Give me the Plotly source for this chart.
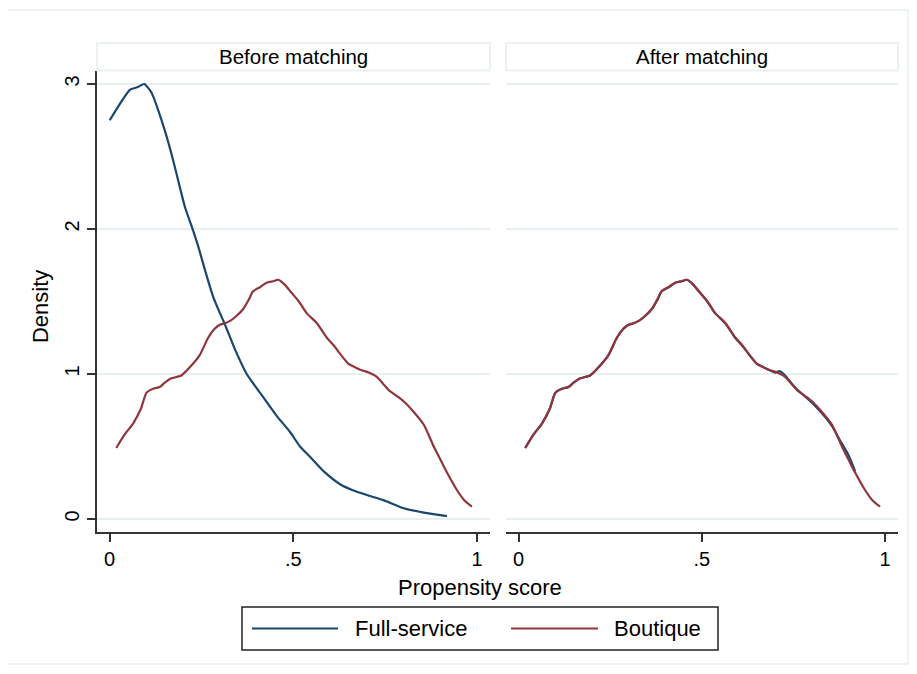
import plotly.graph_objects as go

# ---------------- data ----------------
boutique_x = [0.018, 0.04, 0.064, 0.085, 0.10, 0.12, 0.136, 0.15, 0.168, 0.195,
              0.223, 0.245, 0.268, 0.285, 0.30, 0.314, 0.33, 0.345, 0.364, 0.38,
              0.39, 0.41, 0.427, 0.445, 0.459, 0.475, 0.495, 0.515, 0.536, 0.564,
              0.591, 0.609, 0.63, 0.65, 0.665, 0.682, 0.705, 0.727, 0.745, 0.759,
              0.786, 0.805, 0.827, 0.855, 0.882, 0.90, 0.918, 0.945, 0.965, 0.986]
boutique_y = [0.49, 0.58, 0.66, 0.76, 0.87, 0.90, 0.91, 0.94, 0.97, 0.99,
              1.06, 1.13, 1.25, 1.31, 1.34, 1.35, 1.37, 1.40, 1.45, 1.52,
              1.57, 1.60, 1.63, 1.64, 1.65, 1.62, 1.56, 1.50, 1.42, 1.35,
              1.25, 1.20, 1.13, 1.07, 1.05, 1.03, 1.01, 0.98, 0.93, 0.89,
              0.84, 0.80, 0.74, 0.65, 0.50, 0.41, 0.32, 0.20, 0.13, 0.085]

full_before_x = [0.0, 0.027, 0.055, 0.077, 0.094, 0.114, 0.132, 0.15, 0.168, 0.186,
                 0.205, 0.223, 0.241, 0.259, 0.282, 0.30, 0.314, 0.341, 0.373, 0.395,
                 0.418, 0.455, 0.491, 0.518, 0.545, 0.582, 0.627, 0.66, 0.70, 0.745,
                 0.80, 0.855, 0.918]
full_before_y = [2.75, 2.86, 2.96, 2.98, 3.0, 2.94, 2.82, 2.68, 2.52, 2.34,
                 2.15, 2.02, 1.88, 1.72, 1.53, 1.42, 1.34, 1.17, 1.00, 0.92,
                 0.84, 0.71, 0.60, 0.50, 0.43, 0.33, 0.24, 0.20, 0.165, 0.13,
                 0.074, 0.044, 0.02]

full_after_x = [0.018, 0.04, 0.064, 0.085, 0.10, 0.12, 0.136, 0.15, 0.168, 0.195,
                0.223, 0.245, 0.268, 0.285, 0.30, 0.314, 0.33, 0.345, 0.364, 0.38,
                0.39, 0.41, 0.427, 0.445, 0.459, 0.475, 0.495, 0.515, 0.536, 0.564,
                0.591, 0.609, 0.63, 0.65, 0.665, 0.682, 0.70, 0.712, 0.727, 0.745,
                0.759, 0.786, 0.805, 0.827, 0.855, 0.875, 0.90, 0.918]
full_after_y = [0.49, 0.58, 0.66, 0.76, 0.87, 0.90, 0.91, 0.94, 0.97, 0.99,
                1.06, 1.13, 1.25, 1.31, 1.34, 1.35, 1.37, 1.40, 1.45, 1.52,
                1.57, 1.60, 1.63, 1.64, 1.65, 1.62, 1.56, 1.50, 1.42, 1.35,
                1.25, 1.20, 1.13, 1.07, 1.05, 1.03, 1.01, 1.02, 0.99, 0.935,
                0.895, 0.835, 0.79, 0.73, 0.64, 0.55, 0.44, 0.33]

panel_titles = ["Before matching", "After matching"]
series_names = ["Full-service", "Boutique"]
x_tickvals = [0, 0.5, 1]
x_ticktext = ["0", ".5", "1"]
y_tickvals = [0, 1, 2, 3]
y_ticktext = ["0", "1", "2", "3"]
x_title = "Propensity score"
y_title = "Density"

# ---------------- style ----------------
BLUE = "#1a476f"
RED = "#90353b"
AXIS = "#333333"
GRID = "#e8eff1"
FONT = "Liberation Sans, Arial, Helvetica, sans-serif"

fig = go.Figure()

def line(x, y, color, xa, ya, name):
    return go.Scatter(x=x, y=y, mode="lines", name=name, xaxis=xa, yaxis=ya,
                      line=dict(color=color, width=2.2, shape="spline", smoothing=0.6),
                      showlegend=False, hoverinfo="x+y")

fig.add_trace(line(full_before_x, full_before_y, BLUE, "x", "y", series_names[0]))
fig.add_trace(line(boutique_x, boutique_y, RED, "x", "y", series_names[1]))
fig.add_trace(line(full_after_x, full_after_y, BLUE, "x2", "y2", series_names[0]))
fig.add_trace(line(boutique_x, boutique_y, RED, "x2", "y2", series_names[1]))

XR = [-0.0345, 1.035]
YR = [-0.0897, 3.0897]
YDOM = [0, 0.9427]

xcommon = dict(range=XR, tickvals=x_tickvals, ticktext=x_ticktext, ticks="outside",
               ticklen=8, tickwidth=1.5, tickcolor=AXIS, showline=True, linecolor=AXIS,
               linewidth=1.5, showgrid=False, zeroline=False,
               tickfont=dict(size=20, color="black", family=FONT), fixedrange=True)

fig.update_layout(
    width=901, height=658,
    margin=dict(l=89, r=11, t=35, b=134),
    paper_bgcolor="white", plot_bgcolor="white",
    font=dict(family=FONT, color="black"),
    xaxis=dict(domain=[0, 0.4906], anchor="y", **xcommon),
    xaxis2=dict(domain=[0.5106, 1], anchor="y2", **xcommon),
    yaxis=dict(domain=YDOM, anchor="x", range=YR, tickvals=y_tickvals, ticktext=y_ticktext,
               ticks="outside", ticklen=8, tickwidth=1.5, tickcolor=AXIS, tickangle=-90,
               showline=True, linecolor=AXIS, linewidth=1.5, showgrid=True,
               gridcolor=GRID, gridwidth=1.5, zeroline=False,
               tickfont=dict(size=20, color="black", family=FONT), fixedrange=True),
    yaxis2=dict(domain=YDOM, anchor="x2", range=YR, tickvals=y_tickvals,
                showticklabels=False, ticks="", showline=False, showgrid=True,
                gridcolor=GRID, gridwidth=1.5, zeroline=False, fixedrange=True),
)

shapes = []
annotations = []
# outer frame
shapes.append(dict(type="rect", xref="paper", yref="paper", x0=-0.1149, x1=1.0125,
                   y0=-0.27, y1=1.0675, line=dict(color="#e9f0f2", width=1.5),
                   fillcolor="rgba(0,0,0,0)", layer="below"))
# panel headers
for (x0, x1), title in zip([(0, 0.4906), (0.5106, 1)], panel_titles):
    shapes.append(dict(type="rect", xref="paper", yref="paper", x0=x0, x1=x1,
                       y0=0.9438, y1=1.0, line=dict(color="#e6eef0", width=1.5),
                       fillcolor="white"))
    annotations.append(dict(text=title, xref="paper", yref="paper", x=(x0 + x1) / 2,
                            y=0.972, showarrow=False, xanchor="center", yanchor="middle",
                            font=dict(size=20.5, color="black", family=FONT)))
# axis titles
annotations.append(dict(text=x_title, xref="paper", yref="paper", x=0.478, y=-0.1125,
                        showarrow=False, xanchor="center", yanchor="middle",
                        font=dict(size=22, color="black", family=FONT)))
annotations.append(dict(text=y_title, xref="paper", yref="paper", x=-0.0712, y=0.462,
                        showarrow=False, xanchor="center", yanchor="middle", textangle=-90,
                        font=dict(size=22, color="black", family=FONT)))
# legend (drawn manually to match the long key lines)
shapes.append(dict(type="rect", xref="paper", yref="paper", x0=0.181, x1=0.7753,
                   y0=-0.2413, y1=-0.1534, line=dict(color="#222222", width=1.5),
                   fillcolor="white"))
for (lx0, lx1, tx), color, name in zip([(0.1935, 0.3009, 0.3196), (0.5169, 0.6255, 0.643)],
                                      [BLUE, RED], series_names):
    shapes.append(dict(type="line", xref="paper", yref="paper", x0=lx0, x1=lx1,
                       y0=-0.1973, y1=-0.1973, line=dict(color=color, width=2.2)))
    annotations.append(dict(text=name, xref="paper", yref="paper", x=tx, y=-0.1973,
                            showarrow=False, xanchor="left", yanchor="middle",
                            font=dict(size=22, color="black", family=FONT)))

fig.update_layout(shapes=shapes, annotations=annotations)
fig.write_html("out.html")
